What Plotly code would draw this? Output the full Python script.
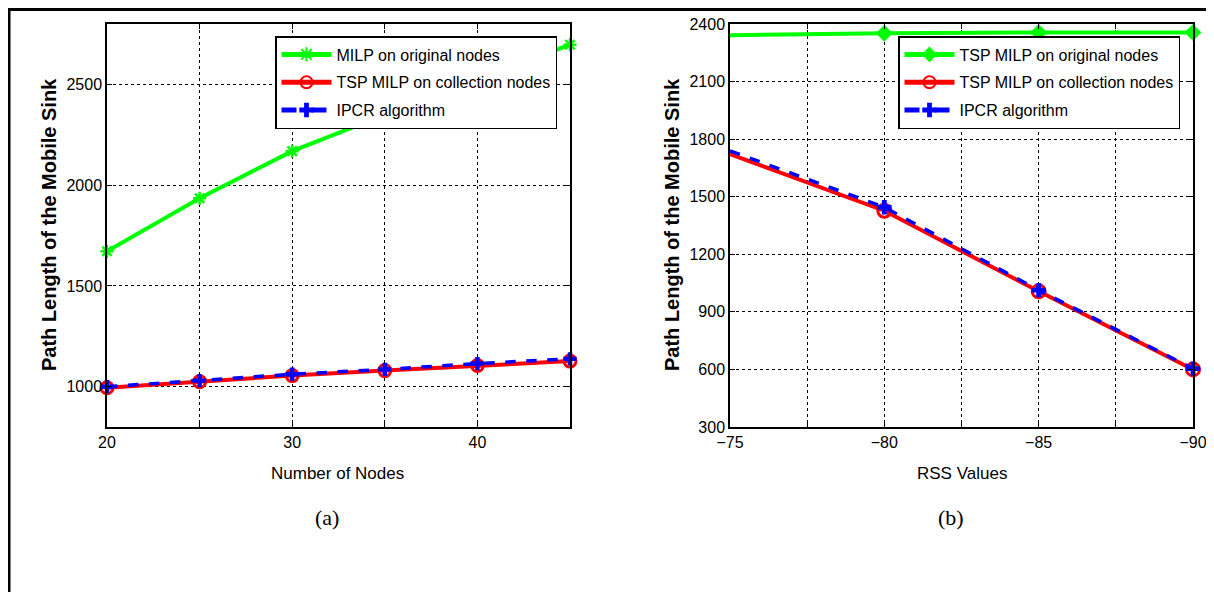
import plotly.graph_objects as go

# page body has an 8px margin, so the figure is drawn 8px in from the top-left
OFF = 8
W, H = 1214 - OFF, 592 - OFF

# ---------------- data ----------------
nodes = [20, 25, 30, 35, 40, 45]
milp_original_a = [1672, 1935, 2169, 2350, 2530, 2697]
tsp_collection_a = [995, 1025, 1055, 1080, 1105, 1127]
ipcr_a = [1000, 1030, 1062, 1086, 1115, 1138]

rss = [-75, -80, -85, -90]
tsp_original_b = [2342, 2352, 2356, 2356]
tsp_collection_b = [1722, 1427, 1007, 600]
ipcr_b = [1739, 1445, 1013, 604]

xtick_a_vals = [20, 25, 30, 35, 40, 45]
xtick_a_text = ["20", "", "30", "", "40", ""]
ytick_a_vals = [1000, 1500, 2000, 2500]
xtick_b_vals = [-75, -77.5, -80, -82.5, -85, -87.5, -90]
xtick_b_text = ["\u221275", "", "\u221280", "", "\u221285", "", "\u221290"]
ytick_b_vals = [300, 600, 900, 1200, 1500, 1800, 2100, 2400]

names_a = ["MILP on original nodes", "TSP MILP on collection nodes", "IPCR algorithm"]
names_b = ["TSP MILP on original nodes", "TSP MILP on collection nodes", "IPCR algorithm"]

# ---------------- helpers (page pixels -> paper fraction) ----------------
def px_x(p):
    return (p - OFF) / W

def px_y(p):
    return 1 - (p - OFF) / H

SANS = "Liberation Sans, Arial, Helvetica, sans-serif"
SERIF = "Liberation Serif, Times New Roman, serif"
GREEN, RED, BLUE = "#00ff00", "#ff0000", "#0000ff"

fig = go.Figure()

# ---- panel (a) ----
fig.add_trace(go.Scatter(
    x=nodes, y=milp_original_a, name=names_a[0], mode="lines+markers",
    line=dict(color=GREEN, width=4),
    marker=dict(symbol="asterisk-open", size=11, opacity=1, line=dict(color=GREEN, width=2.5)),
    xaxis="x", yaxis="y", legend="legend", legendgroup="a1", cliponaxis=False))
fig.add_trace(go.Scatter(
    x=nodes, y=tsp_collection_a, name=names_a[1], mode="lines+markers",
    line=dict(color=RED, width=4),
    marker=dict(symbol="circle-open", size=12, opacity=1, line=dict(color=RED, width=3)),
    xaxis="x", yaxis="y", legend="legend", legendgroup="a2", cliponaxis=False))
fig.add_trace(go.Scatter(
    x=nodes, y=ipcr_a, name=names_a[2], mode="lines+markers",
    line=dict(color=BLUE, width=3.5, dash="dash"),
    marker=dict(symbol="cross", size=11, opacity=1, color=BLUE, line=dict(width=0)),
    xaxis="x", yaxis="y", legend="legend", legendgroup="a3", cliponaxis=False))

# ---- panel (b) ----  (no marker drawn at the left edge point)
hide_first = [0, 13, 13, 13]
fig.add_trace(go.Scatter(
    x=rss, y=tsp_original_b, name=names_b[0], mode="lines+markers",
    line=dict(color=GREEN, width=4),
    marker=dict(symbol="diamond", size=hide_first, sizemode="diameter", opacity=1,
                color=GREEN, line=dict(width=0)),
    xaxis="x2", yaxis="y2", legend="legend2", legendgroup="b1", cliponaxis=False))
fig.add_trace(go.Scatter(
    x=rss, y=tsp_collection_b, name=names_b[1], mode="lines+markers",
    line=dict(color=RED, width=4),
    marker=dict(symbol="circle-open", size=hide_first, sizemode="diameter", opacity=1,
                color=RED, line=dict(color=RED, width=3)),
    xaxis="x2", yaxis="y2", legend="legend2", legendgroup="b2", cliponaxis=False))
fig.add_trace(go.Scatter(
    x=rss, y=ipcr_b, name=names_b[2], mode="lines+markers",
    line=dict(color=BLUE, width=3.5, dash="dash"),
    marker=dict(symbol="cross", size=[0, 12, 12, 12], sizemode="diameter", opacity=1,
                color=BLUE, line=dict(width=0)),
    xaxis="x2", yaxis="y2", legend="legend2", legendgroup="b3", cliponaxis=False))

axis_common = dict(
    showline=True, linecolor="black", linewidth=1.5, mirror="ticks",
    ticks="inside", ticklen=5, tickcolor="black", tickwidth=1,
    showgrid=True, gridcolor="black", gridwidth=1, griddash="dot",
    zeroline=False, automargin=False,
    tickfont=dict(family=SANS, size=16, color="black"),
)

legend_common = dict(
    xanchor="left", yanchor="top", bgcolor="white", bordercolor="black",
    borderwidth=1.5, font=dict(family=SANS, size=16, color="black"),
    itemwidth=50, itemsizing="constant", tracegroupgap=4, traceorder="grouped",
)

top_px, bot_px = 24, 427
fig.update_layout(
    width=W, height=H,
    margin=dict(l=0, r=0, t=0, b=0),
    paper_bgcolor="white", plot_bgcolor="white",
    showlegend=True,
    xaxis=dict(axis_common, domain=[px_x(107), px_x(570)], range=[20, 45],
               tickvals=xtick_a_vals, ticktext=xtick_a_text, anchor="y"),
    yaxis=dict(axis_common, domain=[px_y(bot_px), px_y(top_px)], range=[800, 2800],
               tickvals=ytick_a_vals, anchor="x"),
    xaxis2=dict(axis_common, domain=[px_x(730), px_x(1193)], range=[-75, -90],
                tickvals=xtick_b_vals, ticktext=xtick_b_text, anchor="y2"),
    yaxis2=dict(axis_common, domain=[px_y(bot_px), px_y(top_px)], range=[300, 2400],
                tickvals=ytick_b_vals, anchor="x2"),
    legend=dict(legend_common, x=px_x(275), y=px_y(36)),
    legend2=dict(legend_common, x=px_x(898), y=px_y(36)),
)

ytitle_font = dict(family=SANS, size=20, color="black")
annos = [
    dict(text="<b>Path Length of the Mobile Sink</b>", x=px_x(49), y=px_y(225),
         textangle=-90, font=ytitle_font),
    dict(text="<b>Path Length of the Mobile Sink</b>", x=px_x(672), y=px_y(225),
         textangle=-90, font=ytitle_font),
    dict(text="Number of Nodes", x=px_x(338), y=px_y(473),
         font=dict(family=SANS, size=17, color="black")),
    dict(text="RSS Values", x=px_x(962), y=px_y(473),
         font=dict(family=SANS, size=17, color="black")),
    dict(text="(a)", x=px_x(327), y=px_y(517),
         font=dict(family=SERIF, size=22, color="black")),
    dict(text="(b)", x=px_x(951), y=px_y(517),
         font=dict(family=SERIF, size=22, color="black")),
]
for a in annos:
    a.update(xref="paper", yref="paper", xanchor="center", yanchor="middle", showarrow=False)
fig.update_layout(annotations=annos)

# outer frame (top and left edges visible)
fig.add_shape(type="line", xref="paper", yref="paper",
              x0=px_x(9), x1=1.0, y0=1 - 1.5 / H, y1=1 - 1.5 / H,
              line=dict(color="black", width=3))
fig.add_shape(type="line", xref="paper", yref="paper",
              x0=px_x(9), x1=px_x(9), y0=1, y1=0,
              line=dict(color="black", width=3))

fig.write_html("out.html")
